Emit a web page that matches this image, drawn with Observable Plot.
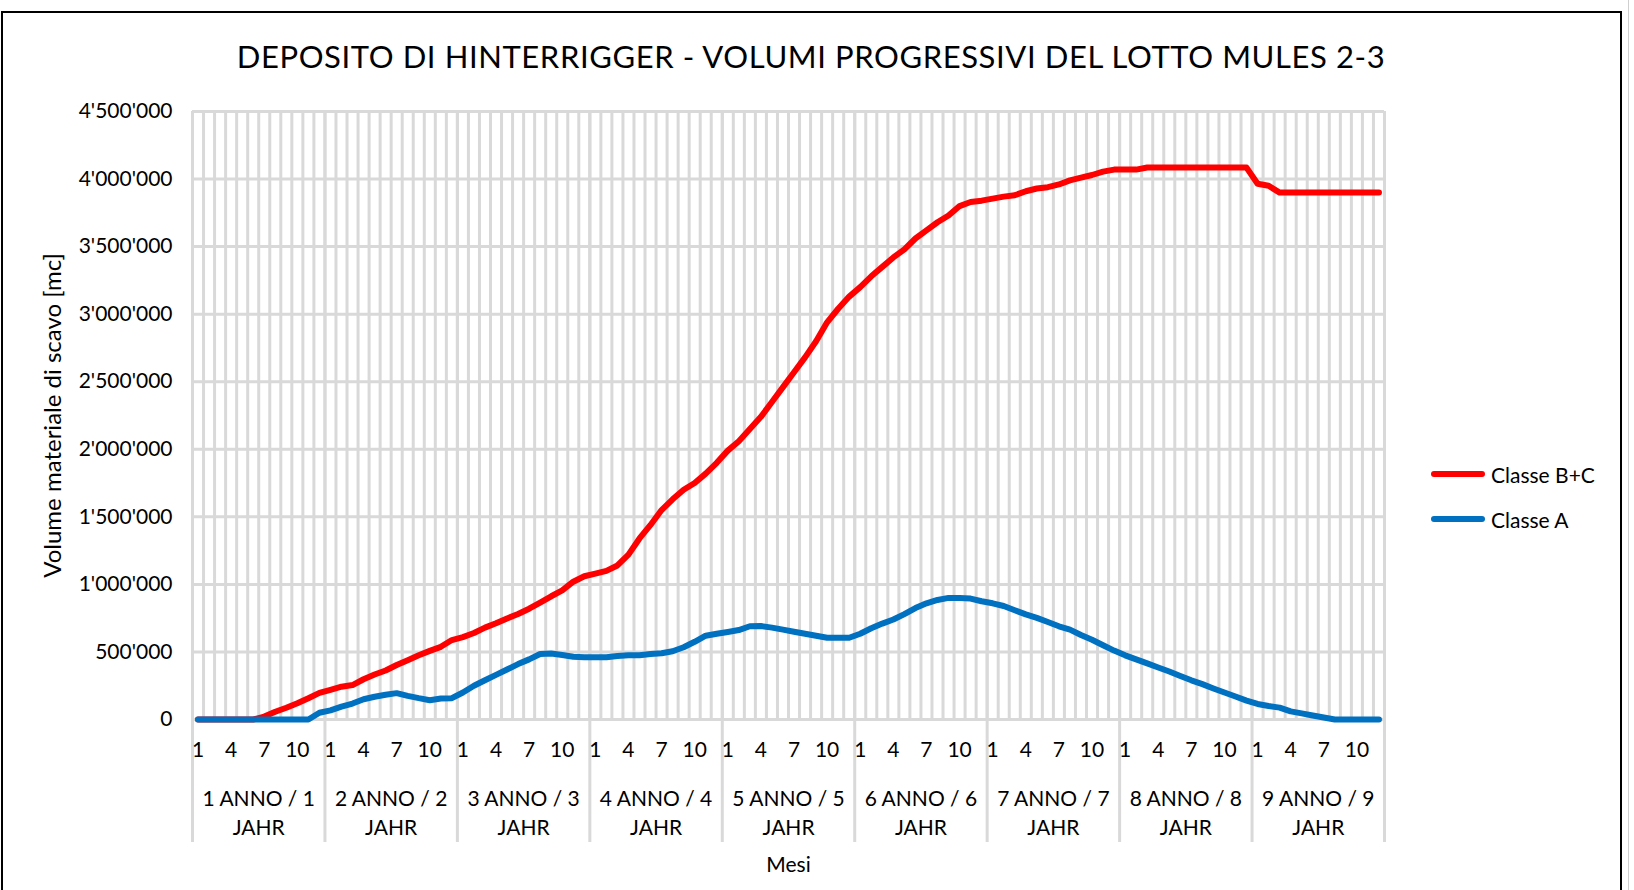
<!DOCTYPE html>
<html>
<head>
<meta charset="utf-8">
<script src="https://cdn.jsdelivr.net/npm/d3@7"></script>
<script src="https://cdn.jsdelivr.net/npm/@observablehq/plot@0.6"></script>
<style>
html, body { margin: 0; padding: 0; background: #fff; overflow: hidden; }
body { width: 1634px; height: 890px; position: relative; font-family: Lato, "Open Sans", sans-serif; color: #000; }
#frame { position: absolute; left: 1px; top: 11px; width: 1621px; height: 1000px; border: 2px solid #000; box-sizing: border-box; }
#edge { position: absolute; left: 1628px; top: 0; width: 1px; height: 890px; background: #cfcfcf; }
#title { position: relative; height: 90px; box-sizing: border-box; padding-top: 22px; padding-right: 12px;
  display: flex; align-items: center; justify-content: center; font-size: 31px; letter-spacing: 0.6px; white-space: nowrap; }
#chart { position: relative; }
.legline { position: absolute; width: 54px; height: 6px; border-radius: 3px; }
.legtext { position: absolute; font-size: 21px; line-height: 1; transform: translateY(-50%); white-space: nowrap; }
</style>
</head>
<body>
<div id="frame"></div>
<div id="edge"></div>
<div id="title"></div>
<div id="chart"></div>
<div id="legend"></div>
<script>
const titleText = "DEPOSITO DI HINTERRIGGER - VOLUMI PROGRESSIVI DEL LOTTO MULES 2-3";
const yTitle = "Volume materiale di scavo [mc]";
const xTitle = "Mesi";
const seriesNames = ["Classe B+C", "Classe A"];
const seriesColors = ["#ff0000", "#0070c0"];
const yearLabels = ["1 ANNO / 1\nJAHR", "2 ANNO / 2\nJAHR", "3 ANNO / 3\nJAHR", "4 ANNO / 4\nJAHR",
  "5 ANNO / 5\nJAHR", "6 ANNO / 6\nJAHR", "7 ANNO / 7\nJAHR", "8 ANNO / 8\nJAHR", "9 ANNO / 9\nJAHR"];
const monthLabels = [1,2,3,4,5,6,7,8,9,10,11,12];
const shownMonths = [1,4,7,10];
const yTicks = [0, 500000, 1000000, 1500000, 2000000, 2500000, 3000000, 3500000, 4000000, 4500000];

const classeBC = [
  0,0,0,0,0,0,22000,57000,87000,120000,157000,197000,
  220000,243000,255000,298000,333000,363000,403000,438000,475000,508000,538000,588000,
  610000,640000,680000,712000,748000,781000,820000,865000,912000,955000,1020000,1060000,
  1080000,1100000,1140000,1220000,1340000,1440000,1550000,1630000,1700000,1750000,1820000,1900000,
  1990000,2060000,2150000,2240000,2350000,2460000,2570000,2680000,2800000,2940000,3040000,3130000,
  3200000,3280000,3350000,3420000,3480000,3560000,3620000,3680000,3730000,3800000,3830000,3840000,
  3855000,3870000,3880000,3910000,3930000,3940000,3960000,3990000,4010000,4030000,4055000,4070000,
  4070000,4070000,4085000,4085000,4085000,4085000,4085000,4085000,4085000,4085000,4085000,4085000,
  3965000,3950000,3900000,3900000,3900000,3900000,3900000,3900000,3900000,3900000,3900000,3900000
];
const classeA = [
  0,0,0,0,0,0,0,0,0,0,0,50000,
  68000,95000,118000,150000,168000,183000,195000,175000,158000,143000,155000,158000,
  200000,250000,290000,330000,370000,410000,445000,485000,488000,478000,465000,460000,
  460000,460000,470000,475000,475000,485000,490000,505000,535000,575000,620000,635000,
  648000,662000,690000,692000,680000,665000,650000,635000,620000,605000,605000,605000,
  635000,675000,710000,740000,780000,825000,860000,885000,900000,900000,895000,875000,
  860000,840000,808000,778000,752000,722000,690000,665000,625000,590000,550000,510000,
  475000,445000,415000,385000,355000,322000,290000,262000,230000,200000,170000,140000,
  115000,100000,88000,60000,45000,30000,15000,0,0,0,0,0
];

document.getElementById("title").textContent = titleText;

const nYears = yearLabels.length;
const nMonths = monthLabels.length;
const idx = d3.range(1, nYears * nMonths + 1);
const boundaries = d3.range(0, nYears * nMonths + 1).map(k => k + 0.5);
const yearBounds = d3.range(0, nYears + 1).map(y => y * nMonths + 0.5);
const tickIdx = idx.filter(k => shownMonths.includes(monthLabels[(k - 1) % nMonths]));
const fmt = v => d3.format(",")(v).replace(/,/g, "'");

const grid = "#d9d9d9";
const chart = Plot.plot({
  width: 1634,
  height: 800,
  marginLeft: 192,
  marginRight: 250,
  marginTop: 21,
  marginBottom: 171,
  x: {type: "linear", domain: [0.5, nYears * nMonths + 0.5], axis: null},
  y: {domain: [0, 4500000], axis: null},
  style: {fontFamily: "Lato, 'Open Sans', sans-serif", fontSize: "21px", color: "#000", background: "transparent", overflow: "visible"},
  marks: [
    Plot.ruleX(boundaries, {stroke: grid, strokeWidth: 3}),
    Plot.ruleX(yearBounds, {stroke: grid, strokeWidth: 3, insetBottom: -123}),
    Plot.ruleY(yTicks, {stroke: grid, strokeWidth: 3}),
    Plot.axisY(yTicks, {tickSize: 0, tickPadding: 20, tickFormat: fmt, fontSize: 21, label: null}),
    Plot.text(tickIdx, {x: d => d, text: d => String(monthLabels[(d - 1) % nMonths]), frameAnchor: "bottom", dy: 31, lineAnchor: "middle", fontSize: 21, fill: "#000"}),
    Plot.text(yearLabels, {x: (d, i) => i * nMonths + (nMonths + 1) / 2, text: d => d, frameAnchor: "bottom", dy: 92, lineAnchor: "middle", lineHeight: 1.38, fontSize: 21, fill: "#000"}),
    Plot.text([xTitle], {frameAnchor: "bottom", dy: 146, lineAnchor: "middle", fontSize: 21, fill: "#000"}),
    Plot.text([yTitle], {frameAnchor: "left", dx: -139, rotate: -90, textAnchor: "middle", lineAnchor: "middle", fontSize: 24, fill: "#000"}),
    Plot.line(idx, {x: d => d, y: (d, i) => classeBC[i], stroke: seriesColors[0], strokeWidth: 6, strokeLinejoin: "round", strokeLinecap: "round"}),
    Plot.line(idx, {x: d => d, y: (d, i) => classeA[i], stroke: seriesColors[1], strokeWidth: 6, strokeLinejoin: "round", strokeLinecap: "round"})
  ]
});
document.getElementById("chart").appendChild(chart);

const legend = document.getElementById("legend");
const legTops = [474, 519];
seriesNames.forEach((name, i) => {
  const l = document.createElement("div");
  l.className = "legline";
  l.style.left = "1431px";
  l.style.top = (legTops[i] - 3) + "px";
  l.style.background = seriesColors[i];
  legend.appendChild(l);
  const t = document.createElement("div");
  t.className = "legtext";
  t.style.left = "1491px";
  t.style.top = legTops[i] + "px";
  t.textContent = name;
  legend.appendChild(t);
});
</script>
</body>
</html>
